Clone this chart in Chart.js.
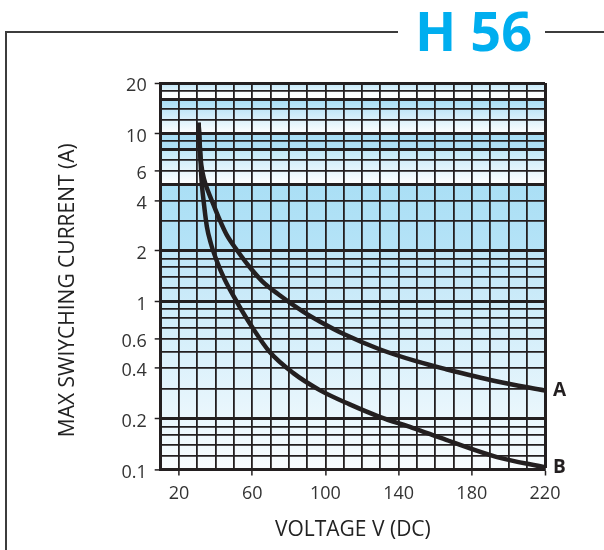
<!DOCTYPE html>
<html>
<head>
<meta charset="utf-8">
<title>H 56</title>
<script src="https://cdn.jsdelivr.net/npm/chart.js@4.4.1/dist/chart.umd.min.js"></script>
<style>
    body { margin: 0; background: #fff; }
    #wrap { position: relative; width: 604px; height: 550px; overflow: hidden; }
    #chart { position: absolute; left: 0; top: 0; }
    .rule { position: absolute; background: #3c3c3c; }
    #heading {
        position: absolute; left: 415px; top: 3px;
        font: bold 54px/54px "Open Sans", sans-serif;
        color: #00aeef; white-space: nowrap;
    }
</style>
</head>
<body>
<div id="wrap">
    <canvas id="chart" width="604" height="550"></canvas>
    <div class="rule" style="left:5px;top:31px;width:2px;height:519px"></div>
    <div class="rule" style="left:5px;top:31px;width:393px;height:2px"></div>
    <div class="rule" style="left:545px;top:31px;width:59px;height:2px"></div>
    <div id="heading">H 56</div>
</div>
<script>
// curve A
const voltsA = [30.7, 31.3, 32.2, 33.8, 36, 38.5, 42, 46, 52, 58.7, 65.5, 75, 87.8, 96.9, 110, 129.6, 150, 166, 193.3, 220];
const currentA = [11.6, 8.5, 6.5, 5.3, 4.5, 3.85, 3.1, 2.5, 2.0, 1.6, 1.32, 1.09, 0.87, 0.76, 0.64, 0.52, 0.44, 0.395, 0.335, 0.295];
// curve B
const voltsB = [30.7, 31.5, 32.3, 33.3, 35.2, 37.5, 40.6, 45, 51.5, 60.5, 69.6, 82.3, 96.9, 113, 129.6, 147.6, 166, 193.3, 220];
const currentB = [11.6, 8, 5.3, 4.1, 2.8, 2.2, 1.75, 1.35, 1.0, 0.69, 0.5, 0.376, 0.297, 0.245, 0.206, 0.177, 0.15, 0.119, 0.103];
const curveNames = ["A", "B"];

const xTickLabels = [20, 60, 100, 140, 180, 220];
const yTickLabels = [0.1, 0.2, 0.4, 0.6, 1, 2, 4, 6, 10, 20];
const yGridValues = [0.1, 0.12, 0.14, 0.16, 0.18, 0.2, 0.3, 0.4, 0.5, 0.6, 0.7, 0.8, 0.9,
    1, 1.2, 1.4, 1.6, 1.8, 2, 3, 4, 5, 6, 7, 8, 9, 10, 12, 14, 16, 18, 20];

const yTitle = "MAX SWIYCHING CURRENT (A)";
const ink = "#231f20";
const font = "'Open Sans', sans-serif";
const thickRows = [20, 16, 10, 8, 5, 2, 1, 0.2];

// blue bands behind the grid: [from, to, top colour, bottom colour]
const bands = [
    [20, 18, "#bde5f7", "#e2f4fc"],
    [18, 16, "#f7fcfe", "#ffffff"],
    [16, 10, "#a6dcf4", "#ffffff"],
    [10, 8, "#a6dcf4", "#b3e1f6"],
    [8, 5, "#c0e7f8", "#ffffff"],
    [5, 2, "#aadff5", "#b5e3f7"],
    [2, 0.1, "#bfe6f8", "#f8fcfe"]
];

const bandPlugin = {
    id: "bands",
    beforeDraw(chart) {
        const {ctx, chartArea: area, scales: {y}} = chart;
        ctx.save();
        bands.forEach(([from, to, c1, c2]) => {
            const top = y.getPixelForValue(from);
            const bottom = y.getPixelForValue(to);
            const grad = ctx.createLinearGradient(0, top, 0, bottom);
            grad.addColorStop(0, c1);
            grad.addColorStop(1, c2);
            ctx.fillStyle = grad;
            ctx.fillRect(area.left, top, area.right - area.left, bottom - top);
        });
        ctx.restore();
    }
};

// curve letters at the line ends + the y axis title (sits a little low in the original)
const textPlugin = {
    id: "texts",
    afterDatasetsDraw(chart) {
        const {ctx, chartArea: area} = chart;
        ctx.save();
        ctx.font = "bold 19px " + font;
        ctx.fillStyle = ink;
        ctx.textBaseline = "middle";
        chart.data.datasets.forEach((ds, i) => {
            const pts = chart.getDatasetMeta(i).data;
            const last = pts[pts.length - 1];
            ctx.fillText(curveNames[i], last.x + 8, last.y);
        });

        ctx.font = "21px " + font;
        ctx.fillStyle = "#222";
        ctx.textAlign = "center";
        ctx.translate(68, (area.top + area.bottom) / 2 + 14);
        ctx.rotate(-Math.PI / 2);
        ctx.fillText(yTitle, 0, 0);
        ctx.restore();
    }
};

function toPoints(xs, ys) {
    return xs.map((x, i) => ({x: x, y: ys[i]}));
}

new Chart(document.getElementById("chart"), {
    type: "scatter",
    data: {
        datasets: [
            {label: curveNames[0], data: toPoints(voltsA, currentA)},
            {label: curveNames[1], data: toPoints(voltsB, currentB)}
        ]
    },
    options: {
        responsive: false,
        animation: false,
        showLine: true,
        layout: {padding: {top: 83, right: 59, left: 0, bottom: 0}},
        elements: {
            point: {radius: 0},
            line: {borderColor: ink, borderWidth: 4.5, cubicInterpolationMode: "monotone", borderCapStyle: "butt"}
        },
        plugins: {legend: {display: false}, tooltip: {enabled: false}},
        scales: {
            x: {
                type: "linear",
                min: 10,
                max: 220,
                afterFit: (s) => { s.height = 80.5; },
                border: {display: true, width: 3, color: ink},
                grid: {
                    color: ink,
                    lineWidth: (c) => (c.tick && c.tick.value === 220 ? 3 : 1.8),
                    tickLength: 6,
                    tickWidth: 1.5,
                    tickColor: (c) => (c.tick && xTickLabels.includes(c.tick.value) ? ink : "rgba(0,0,0,0)")
                },
                ticks: {
                    stepSize: 10,
                    autoSkip: false,
                    maxRotation: 0,
                    padding: 8,
                    color: "#333",
                    font: {family: font, size: 18},
                    callback: (v) => (xTickLabels.includes(v) ? String(v) : "")
                },
                title: {
                    display: true,
                    text: "VOLTAGE V (DC)",
                    color: "#222",
                    font: {family: font, size: 21},
                    padding: {top: 0, bottom: 7}
                }
            },
            y: {
                type: "logarithmic",
                min: 0.1,
                max: 20,
                afterFit: (s) => { s.width = 160.7; },
                afterBuildTicks: (s) => { s.ticks = yGridValues.map((v) => ({value: v})); },
                border: {display: true, width: 3, color: ink},
                grid: {
                    color: ink,
                    lineWidth: (c) => (c.tick && thickRows.includes(c.tick.value) ? 3 : 1.8),
                    tickLength: 6,
                    tickWidth: 1.5,
                    tickColor: (c) => (c.tick && yTickLabels.includes(c.tick.value) ? ink : "rgba(0,0,0,0)")
                },
                ticks: {
                    autoSkip: false,
                    padding: 8,
                    labelOffset: 3,
                    color: "#333",
                    font: {family: font, size: 18},
                    callback: (v) => (yTickLabels.includes(v) ? String(v) : "")
                }
            }
        }
    },
    plugins: [bandPlugin, textPlugin]
});
</script>
</body>
</html>
